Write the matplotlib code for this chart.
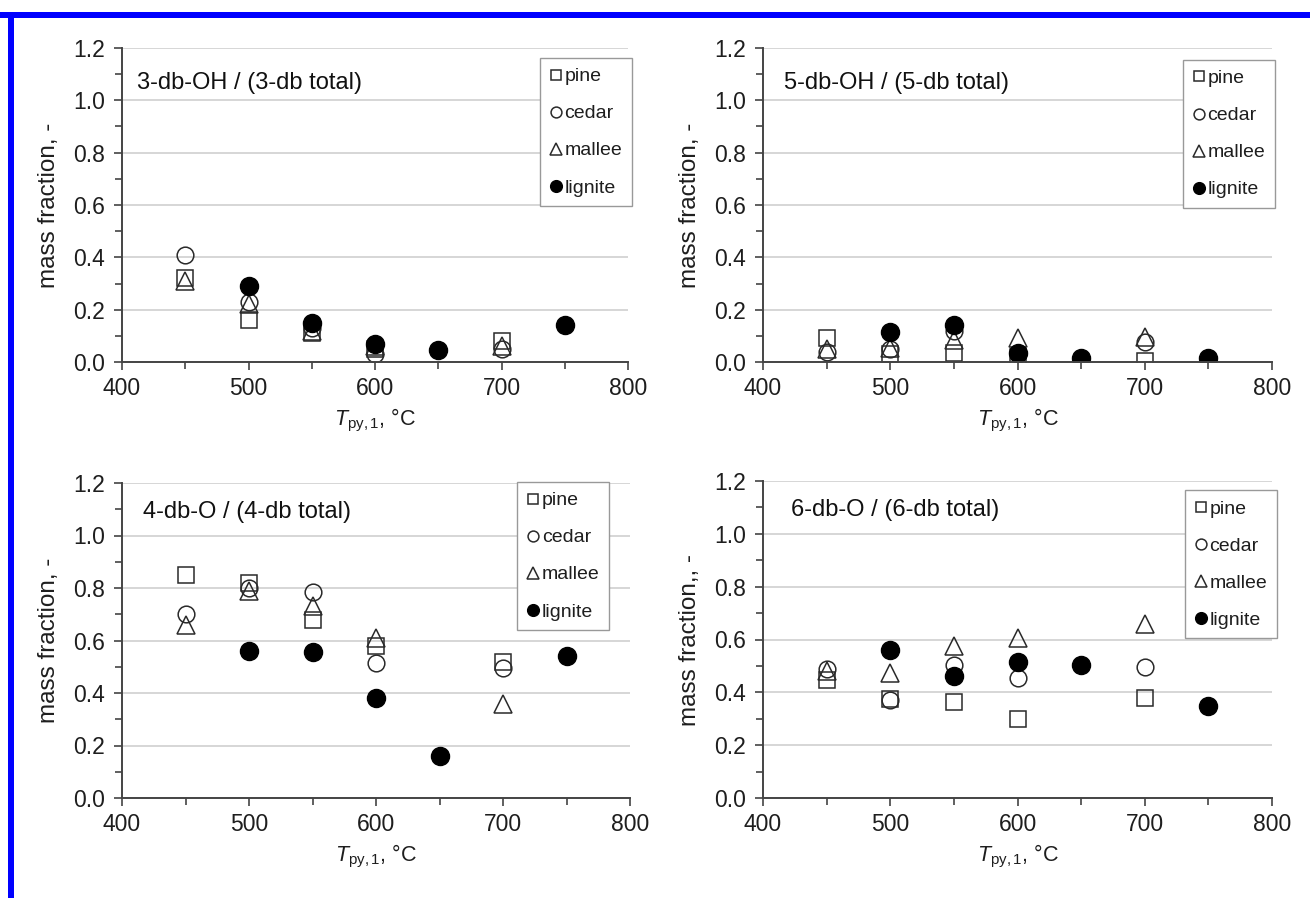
import matplotlib
matplotlib.use("Agg")
import matplotlib.pyplot as plt
from matplotlib.patches import Rectangle
from matplotlib.ticker import MultipleLocator

plt.rcParams['font.family'] = ['Liberation Sans', 'DejaVu Sans']
plt.rcParams['mathtext.fontset'] = 'custom'
plt.rcParams['mathtext.rm'] = 'Liberation Sans'
plt.rcParams['mathtext.it'] = 'Liberation Sans:italic'

# temperatures, degC
t_bio = [450, 500, 550, 600, 700]
t_lig = [500, 550, 600, 650, 750]

# 3-db-OH / (3-db total)
p1_pine = [0.32, 0.16, 0.11, 0.05, 0.08]
p1_cedar = [0.41, 0.23, 0.13, 0.03, 0.05]
p1_mallee = [0.31, 0.22, 0.12, 0.06, 0.06]
p1_lignite = [0.29, 0.15, 0.07, 0.045, 0.14]

# 5-db-OH / (5-db total)
p2_pine = [0.09, 0.03, 0.035, 0.02, 0.005]
p2_cedar = [0.04, 0.05, 0.12, 0.03, 0.075]
p2_mallee = [0.05, 0.055, 0.085, 0.09, 0.095]
p2_lignite = [0.115, 0.14, 0.035, 0.015, 0.015]

# 4-db-O / (4-db total)
p3_pine = [0.85, 0.82, 0.68, 0.58, 0.52]
p3_cedar = [0.70, 0.80, 0.785, 0.515, 0.495]
p3_mallee = [0.66, 0.79, 0.73, 0.61, 0.36]
p3_lignite = [0.56, 0.555, 0.38, 0.16, 0.54]

# 6-db-O / (6-db total)
p4_pine = [0.445, 0.375, 0.365, 0.30, 0.38]
p4_cedar = [0.49, 0.37, 0.505, 0.455, 0.495]
p4_mallee = [0.48, 0.475, 0.575, 0.605, 0.66]
p4_lignite = [0.56, 0.46, 0.515, 0.505, 0.35]

panels = [
    ("3-db-OH / (3-db total)", "mass fraction, -", p1_pine, p1_cedar, p1_mallee, p1_lignite),
    ("5-db-OH / (5-db total)", "mass fraction, -", p2_pine, p2_cedar, p2_mallee, p2_lignite),
    ("4-db-O / (4-db total)", "mass fraction, -", p3_pine, p3_cedar, p3_mallee, p3_lignite),
    ("6-db-O / (6-db total)", "mass fraction,, -", p4_pine, p4_cedar, p4_mallee, p4_lignite),
]

# axes rectangles in pixels: left, top, right, bottom
boxes_px = [(122, 48, 628, 362), (763, 48, 1272, 362),
            (122, 483, 630, 798), (763, 481, 1272, 798)]
title_pos = [(0.03, 0.89), (0.041, 0.89), (0.041, 0.908), (0.055, 0.908)]
leg_pos = [(1.008, 0.968), (1.006, 0.962), (0.959, 1.003), (1.01, 0.971)]

W, H = 1310, 898
fig = plt.figure(figsize=(W / 100, H / 100), dpi=100)

edge = '#2a2a2a'
txt = '#1e1e1e'
for i, (title, ylab, pine, cedar, mallee, lignite) in enumerate(panels):
    l, t, r, b = boxes_px[i]
    ax = fig.add_axes([l / W, 1 - b / H, (r - l) / W, (b - t) / H])
    ax.plot(t_bio, pine, ls='none', marker='s', ms=12, mfc='none', mec=edge, mew=1.1, label='pine')
    ax.plot(t_bio, cedar, ls='none', marker='o', ms=12, mfc='none', mec=edge, mew=1.1, label='cedar')
    ax.plot(t_bio, mallee, ls='none', marker='^', ms=13, mfc='none', mec=edge, mew=1.1, label='mallee')
    ax.plot(t_lig, lignite, ls='none', marker='o', ms=13, mfc='black', mec='black', label='lignite')

    ax.set_xlim(400, 800)
    ax.set_ylim(0, 1.2)
    ax.xaxis.set_major_locator(MultipleLocator(100))
    ax.xaxis.set_minor_locator(MultipleLocator(50))
    ax.yaxis.set_major_locator(MultipleLocator(0.2))
    ax.yaxis.set_minor_locator(MultipleLocator(0.1))
    ax.yaxis.set_major_formatter(plt.FormatStrFormatter('%.1f'))
    ax.grid(axis='y', color='#cfcfcf', lw=1.2)
    ax.set_axisbelow(True)
    for s in ['top', 'right']:
        ax.spines[s].set_visible(False)
    for s in ['left', 'bottom']:
        ax.spines[s].set_color('#444444')
        ax.spines[s].set_linewidth(1.4)
    ax.tick_params(which='both', direction='out', color='#444444', width=1.2, labelsize=16.5, labelcolor=txt)
    ax.tick_params(which='major', length=6, pad=6)
    ax.tick_params(which='minor', length=5)
    ax.tick_params(axis='x', which='major', pad=5)
    ax.set_ylabel(ylab, fontsize=17.5, color=txt, labelpad=10)
    ax.set_xlabel(r'$T_{\rm py,1}$, °C', fontsize=15.5, color=txt, labelpad=5)
    ax.text(title_pos[i][0], title_pos[i][1], title, transform=ax.transAxes,
            fontsize=17, va='center', ha='left', color='#111111')

    leg = ax.legend(loc='upper right', bbox_to_anchor=leg_pos[i], fontsize=14,
                    markerscale=0.65, handlelength=0.6, handletextpad=0.15,
                    labelspacing=1.0, borderpad=0.5, borderaxespad=0,
                    fancybox=False, framealpha=1, edgecolor='#999999')
    leg.get_frame().set_linewidth(1.0)
    for tx in leg.get_texts():
        tx.set_color(txt)

# blue frame on top and left
fig.patches.append(Rectangle((0, 1 - 18 / H), 1, 6 / H, transform=fig.transFigure,
                             color='#0000ff', lw=0))
fig.patches.append(Rectangle((8 / W, 0), 6 / W, 1 - 12 / H, transform=fig.transFigure,
                             color='#0000ff', lw=0))

fig.savefig('out.png', dpi=100)
